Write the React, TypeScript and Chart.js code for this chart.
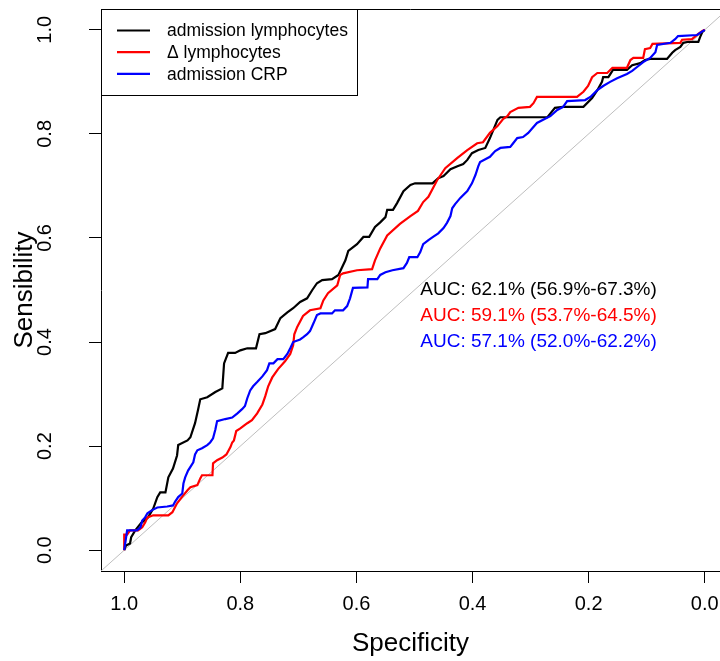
import React, { useEffect, useRef } from "react";
import { Chart, registerables } from "chart.js";

Chart.register(...registerables);

const FONT = "'Liberation Sans', Arial, Helvetica, sans-serif";

// Axis ticks
const specTicks = [0, 0.2, 0.4, 0.6, 0.8, 1.0];
const sensTicks = [0, 0.2, 0.4, 0.6, 0.8, 1.0];

// Series labels / colours / AUC annotations
const seriesLabels = ["admission lymphocytes", "\u0394 lymphocytes", "admission CRP"];
const seriesColors = ["#000000", "#FF0000", "#0000FF"];
const aucLabels = [
  "AUC: 62.1% (56.9%-67.3%)",
  "AUC: 59.1% (53.7%-64.5%)",
  "AUC: 57.1% (52.0%-62.2%)",
];
const aucSpec = 0.49;
const aucSens = [0.5, 0.45, 0.4];

// admission lymphocytes
const lymphSpec = [1.000,0.997,0.990,0.988,0.981,0.971,0.959,0.950,0.943,0.938,0.929,0.924,0.916,0.909,0.907,0.891,0.886,0.878,0.873,0.869,0.857,0.843,0.831,0.828,0.821,0.809,0.800,0.788,0.773,0.767,0.757,0.740,0.731,0.719,0.709,0.697,0.685,0.676,0.668,0.659,0.642,0.631,0.619,0.614,0.599,0.588,0.578,0.568,0.559,0.550,0.547,0.537,0.530,0.519,0.507,0.499,0.469,0.459,0.450,0.438,0.426,0.416,0.409,0.401,0.390,0.378,0.370,0.357,0.352,0.271,0.258,0.244,0.209,0.194,0.185,0.177,0.175,0.166,0.158,0.134,0.125,0.111,0.103,0.094,0.065,0.056,0.051,0.042,0.037,0.028,0.011,0.008,0.004,0.000];
const lymphSens = [0,0.009,0.013,0.025,0.038,0.052,0.063,0.080,0.102,0.111,0.111,0.140,0.157,0.182,0.202,0.211,0.217,0.244,0.269,0.290,0.294,0.304,0.311,0.359,0.379,0.379,0.384,0.388,0.388,0.415,0.417,0.425,0.446,0.457,0.465,0.477,0.484,0.500,0.513,0.519,0.521,0.529,0.557,0.575,0.588,0.602,0.602,0.621,0.630,0.640,0.654,0.654,0.667,0.690,0.702,0.705,0.705,0.715,0.719,0.732,0.738,0.742,0.750,0.763,0.769,0.773,0.792,0.827,0.832,0.832,0.850,0.852,0.852,0.869,0.884,0.900,0.909,0.909,0.923,0.923,0.932,0.936,0.942,0.944,0.944,0.956,0.961,0.967,0.975,0.977,0.977,0.986,0.996,1.000];

// delta lymphocytes
const deltaSpec = [1.000,1.000,0.995,0.990,0.976,0.969,0.964,0.960,0.950,0.924,0.917,0.909,0.900,0.891,0.886,0.874,0.869,0.866,0.848,0.847,0.840,0.831,0.824,0.817,0.814,0.811,0.807,0.800,0.788,0.780,0.771,0.762,0.757,0.752,0.745,0.735,0.723,0.714,0.709,0.707,0.702,0.692,0.680,0.662,0.657,0.649,0.633,0.628,0.623,0.599,0.573,0.568,0.559,0.547,0.525,0.507,0.494,0.485,0.476,0.468,0.461,0.447,0.426,0.409,0.392,0.382,0.370,0.357,0.347,0.340,0.335,0.321,0.301,0.295,0.289,0.220,0.209,0.201,0.194,0.185,0.168,0.159,0.134,0.128,0.123,0.106,0.103,0.094,0.090,0.042,0.039,0.022,0.011,0.004,0.000];
const deltaSens = [0,0.030,0.030,0.038,0.038,0.044,0.053,0.063,0.067,0.067,0.073,0.090,0.103,0.115,0.121,0.125,0.138,0.144,0.144,0.167,0.173,0.178,0.184,0.198,0.207,0.211,0.229,0.234,0.244,0.250,0.263,0.280,0.296,0.315,0.332,0.348,0.363,0.377,0.394,0.415,0.429,0.450,0.461,0.465,0.480,0.494,0.509,0.529,0.532,0.538,0.540,0.557,0.580,0.605,0.627,0.642,0.652,0.669,0.679,0.696,0.711,0.734,0.754,0.769,0.782,0.784,0.802,0.815,0.829,0.834,0.842,0.850,0.852,0.859,0.871,0.871,0.881,0.892,0.909,0.917,0.917,0.927,0.927,0.942,0.946,0.946,0.963,0.965,0.973,0.975,0.981,0.982,0.992,0.998,1.000];

// admission CRP
const crpSpec = [1.000,0.997,0.995,0.978,0.972,0.969,0.964,0.960,0.952,0.943,0.926,0.916,0.912,0.907,0.900,0.898,0.895,0.890,0.881,0.878,0.874,0.866,0.857,0.852,0.847,0.843,0.840,0.826,0.814,0.805,0.797,0.792,0.788,0.783,0.778,0.771,0.762,0.754,0.750,0.743,0.736,0.726,0.719,0.714,0.709,0.697,0.692,0.685,0.680,0.674,0.668,0.662,0.642,0.637,0.623,0.616,0.611,0.606,0.581,0.580,0.564,0.559,0.550,0.538,0.519,0.513,0.509,0.495,0.490,0.485,0.476,0.468,0.459,0.450,0.444,0.438,0.435,0.430,0.421,0.409,0.401,0.395,0.390,0.387,0.370,0.361,0.352,0.335,0.330,0.323,0.313,0.304,0.297,0.289,0.275,0.266,0.254,0.244,0.237,0.206,0.197,0.185,0.175,0.163,0.151,0.134,0.125,0.116,0.106,0.094,0.085,0.082,0.059,0.051,0.046,0.013,0.008,0.000];
const crpSens = [0,0.023,0.038,0.038,0.044,0.057,0.063,0.071,0.077,0.082,0.084,0.086,0.094,0.102,0.109,0.128,0.140,0.153,0.169,0.184,0.192,0.196,0.202,0.207,0.215,0.232,0.248,0.252,0.255,0.263,0.271,0.277,0.292,0.307,0.315,0.323,0.334,0.346,0.359,0.359,0.367,0.367,0.377,0.388,0.400,0.405,0.409,0.415,0.421,0.436,0.452,0.455,0.455,0.461,0.461,0.469,0.484,0.504,0.505,0.521,0.521,0.529,0.534,0.538,0.542,0.552,0.563,0.563,0.573,0.588,0.596,0.602,0.609,0.619,0.629,0.642,0.657,0.665,0.677,0.690,0.705,0.721,0.738,0.746,0.756,0.767,0.773,0.775,0.782,0.792,0.794,0.802,0.811,0.821,0.829,0.834,0.846,0.852,0.863,0.865,0.871,0.884,0.892,0.900,0.907,0.915,0.921,0.929,0.938,0.946,0.957,0.971,0.975,0.982,0.988,0.990,0.994,1.000];

// chance diagonal (sens = 1 - spec), spanning the plot range
const diagSpec = [1.04, -0.04];
const diagSens = [-0.04, 1.04];

function pts(xs: number[], ys: number[]) {
  const n = Math.min(xs.length, ys.length);
  const out: { x: number; y: number }[] = [];
  for (let i = 0; i < n; i++) out.push({ x: xs[i], y: ys[i] });
  return out;
}

const rocAnnotations = {
  id: "rocAnnotations",
  afterDatasetsDraw(chart: any) {
    const { ctx, chartArea, scales } = chart;
    ctx.save();
    // top frame line
    ctx.strokeStyle = "#000";
    ctx.lineWidth = 1;
    const top = Math.round(chartArea.top) + 0.5;
    ctx.beginPath();
    ctx.moveTo(chartArea.left, top);
    ctx.lineTo(chartArea.right, top);
    ctx.stroke();

    // legend box
    const lx = Math.round(chartArea.left) + 0.5;
    ctx.fillStyle = "#fff";
    ctx.fillRect(lx, top, 256, 86);
    ctx.strokeRect(lx, top, 256, 86);
    ctx.font = `17.5px ${FONT}`;
    ctx.textBaseline = "middle";
    ctx.textAlign = "left";
    for (let i = 0; i < seriesLabels.length; i++) {
      const y = chartArea.top + 21.5 + i * 21.7;
      ctx.strokeStyle = seriesColors[i];
      ctx.lineWidth = 2.2;
      ctx.beginPath();
      ctx.moveTo(chartArea.left + 16, y);
      ctx.lineTo(chartArea.left + 49, y);
      ctx.stroke();
      ctx.fillStyle = "#000";
      ctx.fillText(seriesLabels[i], chartArea.left + 66, y + 1);
    }

    // AUC texts
    ctx.font = `19px ${FONT}`;
    const ax = scales.x.getPixelForValue(aucSpec);
    for (let i = 0; i < aucLabels.length; i++) {
      ctx.fillStyle = seriesColors[i];
      ctx.fillText(aucLabels[i], ax, scales.y.getPixelForValue(aucSens[i]));
    }
    ctx.restore();
  },
};

export default function App() {
  const ref = useRef<HTMLCanvasElement | null>(null);

  useEffect(() => {
    if (!ref.current) return;
    const lineDs = (i: number, xs: number[], ys: number[], order: number) => ({
      label: seriesLabels[i],
      data: pts(xs, ys),
      borderColor: seriesColors[i],
      backgroundColor: seriesColors[i],
      borderWidth: 2.2,
      pointRadius: 0,
      tension: 0,
      fill: false,
      order,
    });
    const chart = new Chart(ref.current, {
      type: "line",
      data: {
        datasets: [
          lineDs(0, lymphSpec, lymphSens, 2),
          lineDs(1, deltaSpec, deltaSens, 1),
          lineDs(2, crpSpec, crpSens, 0),
          {
            label: "chance",
            data: pts(diagSpec, diagSens),
            borderColor: "#BEBEBE",
            borderWidth: 1,
            pointRadius: 0,
            tension: 0,
            fill: false,
            order: 3,
          },
        ],
      },
      options: {
        animation: false,
        responsive: false,
        devicePixelRatio: 1,
        events: [],
        layout: { padding: { top: 9, right: 0, left: 0, bottom: 0 } },
        plugins: {
          legend: { display: false },
          tooltip: { enabled: false },
        },
        scales: {
          x: {
            type: "linear",
            reverse: true,
            min: -0.0263,
            max: 1.04,
            afterFit: (s: any) => {
              s.height = 90;
              s.paddingLeft = 0;
              s.paddingRight = 0;
              s.paddingTop = 0;
              s.paddingBottom = 0;
            },
            afterBuildTicks: (s: any) => {
              s.ticks = specTicks.map((v) => ({ value: v }));
            },
            grid: {
              drawOnChartArea: false,
              drawTicks: true,
              tickLength: 12,
              color: "#000",
              tickColor: "#000",
            },
            border: { display: true, color: "#000", width: 1 },
            ticks: {
              autoSkip: false,
              minRotation: 0,
              maxRotation: 0,
              padding: 9,
              color: "#000",
              font: { family: FONT, size: 20 },
              callback: (v: any) => Number(v).toFixed(1),
            },
            title: {
              display: true,
              text: "Specificity",
              color: "#000",
              font: { family: FONT, size: 26 },
              padding: { top: 0, bottom: 2 },
            },
          },
          y: {
            type: "linear",
            min: -0.04,
            max: 1.04,
            afterFit: (s: any) => {
              s.width = 101;
              s.paddingLeft = 0;
              s.paddingRight = 0;
              s.paddingTop = 0;
              s.paddingBottom = 0;
            },
            afterBuildTicks: (s: any) => {
              s.ticks = sensTicks.map((v) => ({ value: v }));
            },
            grid: {
              drawOnChartArea: false,
              drawTicks: true,
              tickLength: 12,
              color: "#000",
              tickColor: "#000",
            },
            border: { display: true, color: "#000", width: 1 },
            ticks: {
              autoSkip: false,
              minRotation: 90,
              maxRotation: 90,
              crossAlign: "center",
              padding: 30,
              color: "#000",
              font: { family: FONT, size: 20 },
              callback: (v: any) => Number(v).toFixed(1),
            },
            title: {
              display: true,
              text: "Sensibility",
              color: "#000",
              font: { family: FONT, size: 26 },
              padding: { top: 9, bottom: 0 },
            },
          },
        },
      },
      plugins: [rocAnnotations],
    } as any);
    return () => chart.destroy();
  }, []);

  return (
    <div style={{ position: "absolute", left: 0, top: 0, width: 720, height: 661, background: "#fff" }}>
      <canvas ref={ref} width={720} height={661} style={{ display: "block" }} />
    </div>
  );
}
